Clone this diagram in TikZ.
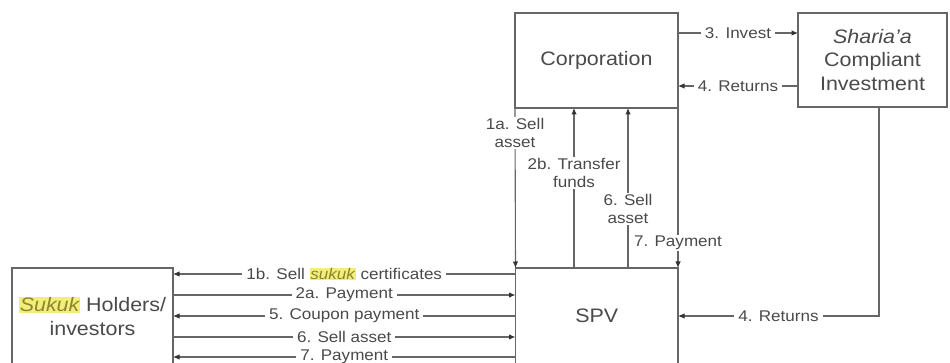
\documentclass[tikz,border=0pt]{standalone}
\usepackage{fontspec}
\setmainfont{Liberation Sans}[FakeStretch=1.1]
\usetikzlibrary{arrows.meta}
\definecolor{txt}{HTML}{4A4A4A}
\definecolor{ln}{HTML}{666666}
\definecolor{tip}{HTML}{333333}
\definecolor{hly}{HTML}{F3EE7C}
\definecolor{hlt}{HTML}{8A862E}
\newcommand{\hlword}[1]{{\setlength{\fboxsep}{0.8pt}\colorbox{hly}{\color{hlt}\itshape #1}}}
\begin{document}
\begin{tikzpicture}[x=1pt,y=-1pt,
  box/.style={draw=ln, line width=1.3pt, text=txt, font=\fontsize{19.5}{23.5}\selectfont,
    align=center, inner sep=0pt, outer sep=0pt, anchor=north west},
  arr/.style={draw=ln, line width=1.1pt, -{Latex[length=6.5pt,width=5.5pt,color=tip]}},
  lbl/.style={fill=white, text=txt, font=\fontsize{15.5}{18.5}\selectfont, inner xsep=4pt, inner ysep=1pt, align=center}]
\useasboundingbox (0,0) rectangle (950,363);
\clip (0,0) rectangle (950,363);
\fill[white] (0,0) rectangle (950,363);

% boxes
\node[box, minimum width=163pt, minimum height=95pt] (corp) at (515,13) {Corporation};
\node[box, minimum width=149pt, minimum height=94pt] (shar) at (798,13) {\textit{Sharia'a}\\Compliant\\Investment};
\node[box, minimum width=162.5pt, minimum height=96pt] (spv) at (515.5,268) {SPV};
\node[box, minimum width=161pt, minimum height=96pt] (sk) at (12,268) {\hlword{Sukuk} Holders/\\investors};

% helper coordinates
\coordinate (h1) at (0,274);
\coordinate (h2) at (0,295);
\coordinate (h3) at (0,316);
\coordinate (h4) at (0,337);
\coordinate (h5) at (0,357);
\coordinate (t1) at (0,33);
\coordinate (t2) at (0,86);
\coordinate (v2) at (574,0);
\coordinate (v3) at (628,0);
\coordinate (vr) at (879,0);

% horizontal flows between Sukuk holders and SPV
\draw[arr] (spv.west |- h1) -- node[lbl]{1b. Sell \hlword{sukuk} certificates} (sk.east |- h1);
\draw[arr] (sk.east |- h2) -- node[lbl]{2a. Payment} (spv.west |- h2);
\draw[arr] (spv.west |- h3) -- node[lbl]{5. Coupon payment} (sk.east |- h3);
\draw[arr] (sk.east |- h4) -- node[lbl]{6. Sell asset} (spv.west |- h4);
\draw[arr] (spv.west |- h5) -- node[lbl]{7. Payment} (sk.east |- h5);

% vertical flows between Corporation and SPV
\draw[arr] (corp.south west) -- node[lbl, pos=0.156]{1a. Sell\\asset} (spv.north west);
\draw[arr] (spv.north -| v2) -- node[lbl, pos=0.594]{2b. Transfer\\funds} (corp.south -| v2);
\draw[arr] (spv.north -| v3) -- node[lbl, pos=0.369]{6. Sell\\asset} (corp.south -| v3);
\draw[arr] (corp.south east) -- node[lbl, pos=0.844]{7. Payment} (spv.north east);

% Corporation <-> Sharia'a
\draw[arr] (corp.east |- t1) -- node[lbl]{3. Invest} (shar.west |- t1);
\draw[arr] (shar.west |- t2) -- node[lbl]{4. Returns} (corp.east |- t2);

% Sharia'a -> SPV
\draw[arr] (shar.south -| vr) |- node[lbl, pos=0.75]{4. Returns} (spv.east |- h3);
\end{tikzpicture}
\end{document}
